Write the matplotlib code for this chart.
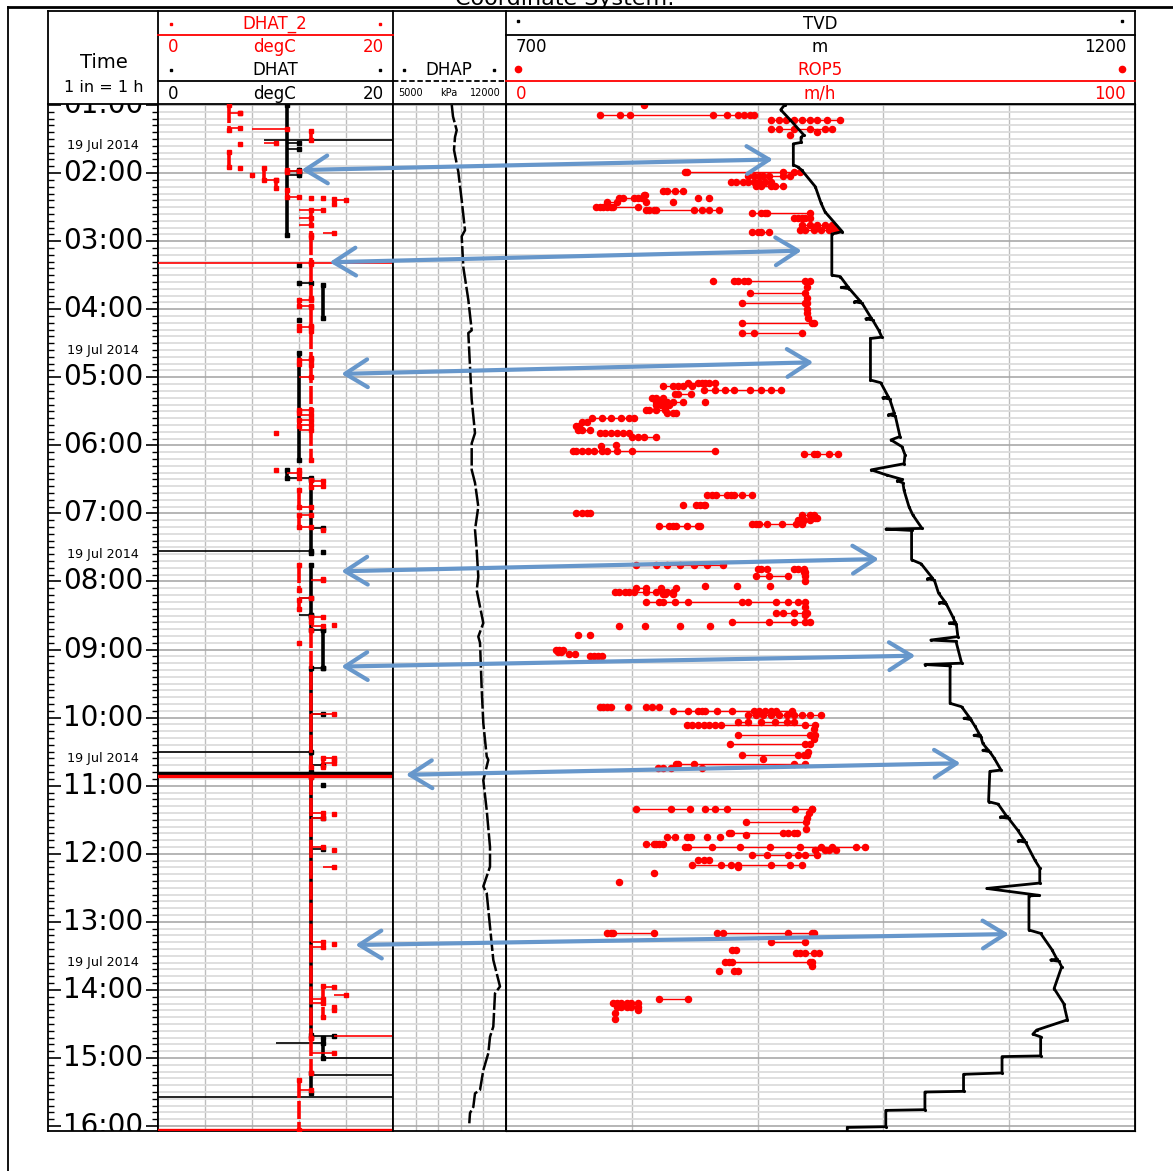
import numpy as np
import matplotlib.pyplot as plt
from matplotlib.patches import ConnectionPatch
from matplotlib.transforms import blended_transform_factory

hours = list(range(1, 17))
date_hours = [1.6, 4.6, 7.6, 10.6, 13.6]
date_text = '19 Jul 2014'

# TVD (m) against time (h)
tvd_time = [1.00, 1.07, 1.22, 1.44, 1.475, 1.55, 1.57, 1.88, 1.91, 1.955, 2.20, 2.44, 2.57, 2.86, 2.895,
            3.50, 3.52, 3.67, 3.68, 3.70, 3.88, 3.89, 3.91, 4.13, 4.14, 4.16, 4.31, 4.41, 4.43, 5.04,
            5.08, 5.29, 5.30, 5.32, 5.53, 5.55, 5.57, 5.87, 5.92, 6.02, 6.14, 6.27, 6.36, 6.435, 6.50,
            6.52, 6.55, 6.66, 6.90, 7.02, 7.22, 7.23, 7.25, 7.68, 7.74, 7.95, 7.96, 7.98, 8.17, 8.30,
            8.31, 8.33, 8.52, 8.60, 8.61, 8.63, 8.81, 8.86, 8.88, 9.20, 9.22, 9.24, 9.79, 9.84, 10.00,
            10.01, 10.03, 10.13, 10.25, 10.26, 10.28, 10.38, 10.47, 10.48, 10.50, 10.60, 10.77, 10.79,
            11.235, 11.27, 11.45, 11.46, 11.48, 11.65, 11.80, 11.81, 11.83, 12.09, 12.21, 12.43, 12.51,
            12.61, 12.62, 13.12, 13.17, 13.41, 13.55, 13.56, 13.58, 13.66, 13.98, 14.20, 14.44, 14.59,
            14.65, 14.69, 14.97, 14.98, 15.22, 15.24, 15.49, 15.50, 15.76, 15.77, 16.01, 16.02, 16.10]
tvd_m = [921.4, 918.4, 926.0, 936.7, 934.5, 934.5, 928.4, 928.4, 932.0, 935.0, 945.9, 950.4, 953.6, 967.3, 959.0,
         959.0, 965.7, 971.8, 966.5, 973.0, 981.5, 977.0, 983.0, 990.3, 986.0, 991.5, 996.3, 998.8, 989.7, 989.7,
         997.9, 1004.0, 999.5, 1005.0, 1008.7, 1004.0, 1009.5, 1013.2, 1006.0, 1014.8, 1017.2, 1016.4, 990.3, 1002.5, 1014.8,
         1011.0, 1015.5, 1016.4, 1020.3, 1023.3, 1030.7, 1002.0, 1022.4, 1022.4, 1030.0, 1039.0, 1035.0, 1040.5, 1043.8, 1049.0,
         1044.5, 1050.0, 1055.2, 1057.0, 1052.5, 1058.0, 1059.2, 1037.7, 1057.7, 1062.2, 1033.0, 1053.0, 1053.0, 1062.2, 1068.5,
         1064.0, 1069.5, 1072.9, 1076.5, 1072.0, 1077.5, 1079.0, 1083.0, 1079.0, 1084.5, 1088.2, 1093.5, 1084.6,
         1083.6, 1091.2, 1098.0, 1093.0, 1099.5, 1106.6, 1112.0, 1107.0, 1113.0, 1120.3, 1124.3, 1124.3, 1082.1,
         1123.4, 1115.7, 1115.7, 1125.0, 1134.0, 1138.0, 1133.0, 1139.5, 1141.7, 1135.7, 1143.3, 1146.3, 1121.8,
         1118.8, 1125.0, 1125.0, 1094.3, 1094.3, 1063.7, 1063.7, 1033.0, 1033.0, 1001.9, 1001.9, 971.3, 971.3]

# DHAP (kPa)
dhap_time = [1.00, 1.17, 1.37, 1.47, 1.66, 1.98, 2.40, 2.84, 2.93, 3.38, 3.86, 4.31, 4.35, 4.84, 5.33,
             5.82, 5.97, 6.36, 6.55, 6.90, 7.24, 7.54, 7.93, 8.13, 8.61, 8.81, 8.90, 9.59, 10.08, 10.57,
             10.62, 10.92, 11.36, 11.90, 12.19, 12.48, 12.58, 13.07, 13.56, 13.95, 14.05, 14.54, 14.69,
             14.93, 15.18, 15.32, 15.47, 15.52, 15.72, 15.81, 15.96]
dhap_kpa = [8640, 8717, 8946, 8841, 8779, 9045, 9256, 9460, 9256, 9355, 9665, 9875, 9665, 9770, 9875,
            10080, 9875, 9875, 10080, 10284, 10080, 10185, 10284, 10185, 10594, 10284, 10390, 10495, 10594, 10805,
            10904, 10594, 10805, 11009, 11009, 10594, 10805, 11009, 11213, 11629, 11319, 11213, 11009,
            10904, 10594, 10495, 10390, 10080, 9975, 9770, 9727]

# DHAT (black): runs of constant reading (start h, end h, degC)
dhat_t0 = [1.00, 1.95, 3.64, 4.64, 6.36, 6.51, 7.76, 8.52, 8.71, 9.27, 10.87, 14.71, 15.22]
dhat_t1 = [2.91, 2.00, 4.13, 6.22, 6.48, 7.58, 8.49, 8.71, 9.27, 10.80, 14.66, 15.00, 15.51]
dhat_v = [11, 12, 14, 12, 11, 13, 13, 13, 14, 13, 13, 14, 13]
# jumps (time, from degC, to degC); beyond 0..20 means off scale
dhat_jump_t = [1.51, 1.56, 1.65, 1.97, 2.03, 3.61, 6.48, 7.21, 7.55, 8.24, 8.49, 8.71, 9.27, 9.95,
               10.50, 10.69, 10.81, 11.47, 11.93, 14.68, 14.78, 15.00, 15.25, 15.57]
dhat_jump_a = [9, 11, 11, 11, 11, 12, 11, 13, -5, 12, 12, 13, 13, 13, -5, 13, -5, 13, 13, 13, 10, 14, 13, -5]
dhat_jump_b = [25, 12, 12, 12, 12, 13, 13, 14, 13, 13, 13, 14, 14, 14, 13, 14, 25, 14, 14, 15, 14, 25, 25, 25]
dhat_dot_t = [3.35, 3.61, 4.16, 7.57, 10.99]
dhat_dot_v = [12, 12, 12, 14, 14]

# DHAT_2 (red)
dhat2_t0 = [1.00, 1.38, 1.69, 1.93, 1.95, 2.10, 2.25, 2.38, 2.54, 2.94, 3.34, 3.86, 3.97, 4.24, 4.32,
            4.75, 4.82, 5.48, 5.63, 6.36, 6.51, 6.66, 7.02, 7.76, 8.27, 8.52, 8.71, 10.59, 10.87,
            13.95, 14.70, 15.32]
dhat2_t1 = [1.36, 1.52, 1.91, 2.10, 1.99, 2.22, 2.35, 2.45, 2.91, 3.30, 3.84, 3.95, 4.24, 4.30, 4.72,
            4.80, 6.22, 5.52, 5.72, 6.48, 6.61, 6.90, 7.20, 8.13, 8.40, 8.60, 10.73, 10.73, 14.70,
            14.40, 15.22, 16.06]
dhat2_v = [6, 13, 6, 9, 11, 10, 11, 15, 13, 13, 13, 12, 13, 12, 13,
           12, 13, 12, 12, 12, 13, 12, 12, 12, 12, 13, 13, 14, 13,
           14, 13, 12]
dhat2_jump_t = [1.12, 1.34, 1.35, 1.56, 1.97, 2.10, 2.35, 2.40, 2.54, 2.66, 2.76, 2.88, 3.32, 3.86, 3.95,
                4.26, 4.75, 5.00, 5.48, 5.56, 5.63, 5.70, 5.77, 6.40, 6.52, 6.60, 6.90, 7.02, 7.20, 7.98,
                8.24, 8.52, 8.66, 9.95, 10.60, 10.66, 10.86, 11.40, 11.47, 11.90, 12.19, 13.30, 13.37,
                13.96, 14.07, 14.14, 14.19, 14.68, 14.93, 15.47, 16.06]
dhat2_jump_a = [6, 6, 8, 9, 11, 9, 11, 15, 12, 12, 12, 14, -5, 12, 12,
                12, 12, 12, 12, 12, 12, 12, 12, 11, 13, 13, 12, 12, 12, 13,
                12, 13, 13, 13, 14, 14, -5, 13, 13, 13, 14, 13, 13,
                14, 15, 13, 13, 15, 13, 12, -5]
dhat2_jump_b = [7, 7, 11, 10, 12, 10, 12, 16, 14, 13, 13, 15, 25, 13, 13,
                13, 13, 13, 13, 13, 13, 13, 13, 12, 14, 14, 13, 13, 13, 14,
                13, 14, 14, 15, 15, 15, 25, 14, 14, 14, 15, 14, 14,
                15, 16, 14, 14, 25, 15, 13, 25]
dhat2_dot_t = [1.12, 1.57, 1.92, 2.03, 2.37, 2.37, 5.82, 6.36, 7.24, 7.97, 8.64, 8.90, 10.62, 11.42,
               11.94, 13.33, 14.25, 14.30]
dhat2_dot_v = [7, 7, 7, 8, 13, 14, 10, 10, 14, 14, 15, 12, 15, 15, 15, 15, 15, 15]

# ROP5 (m/h): each row is a run of samples at (about) one time
rop_row_time = [1.00, 1.15, 1.22, 1.35, 1.40, 1.44, 1.98, 2.05, 2.13, 2.19, 2.27, 2.32, 2.37, 2.37, 2.37,
                2.42, 2.42, 2.42, 2.50, 2.54, 2.59, 2.66, 2.76, 2.84, 2.86,
                3.58, 3.58, 3.67, 3.76, 3.84, 3.91, 3.99, 4.06, 4.13, 4.20, 4.35,
                5.09, 5.13, 5.19, 5.24, 5.31, 5.36, 5.36, 5.41, 5.48, 5.52, 5.60, 5.65, 5.72, 5.77,
                5.82, 5.88, 5.99, 6.01, 6.08, 6.12,
                6.73, 6.88, 6.88, 6.99, 7.02, 7.07, 7.10, 7.16, 7.19,
                7.76, 7.81, 7.81, 7.86, 7.92, 7.92, 8.00, 8.07, 8.07, 8.07, 8.10, 8.10, 8.10, 8.15,
                8.18, 8.30, 8.37, 8.46, 8.49, 8.59, 8.66, 8.66, 8.66, 8.66, 8.78, 8.78,
                9.01, 9.04, 9.06, 9.10,
                9.84, 9.84, 9.84, 9.84, 9.90, 9.96, 10.06, 10.06, 10.11, 10.17, 10.25, 10.31, 10.39,
                10.50, 10.55, 10.61, 10.68, 10.74,
                11.34, 11.34, 11.40, 11.47, 11.54, 11.63, 11.70, 11.73, 11.76, 11.76, 11.76, 11.76,
                11.85, 11.90, 11.95, 12.02, 12.09, 12.16, 12.20, 12.28, 12.42,
                13.17, 13.17, 13.29, 13.41, 13.46, 13.59, 13.65, 13.72, 13.72,
                14.13, 14.19, 14.25, 14.30, 14.34, 14.43]
rop_row_vals = [
    [21.9], [14.9, 18.1, 19.7, 32.9, 35.1, 36.9, 37.8, 38.8, 39.4],
    [42.1, 43.4, 44.5, 45.8, 47.0, 48.3, 49.4, 51.0, 53.1], [42.1, 43.4, 45.8, 48.3, 50.7, 51.9],
    [49.4], [45.2], [28.4, 28.7, 44.0, 45.8, 46.7], [38.5, 39.4, 40.3, 40.9, 41.8, 44.0, 45.2],
    [35.7, 36.6, 37.6, 38.5, 39.4, 40.3, 41.2, 42.1], [39.7, 40.6, 42.1, 42.7, 44.0],
    [25.0, 25.6, 26.8, 28.2], [21.9, 22.1], [18.0, 18.6, 20.4, 21.0, 21.6], [30.5], [32.3],
    [16.1, 17.6], [22.2], [26.5], [14.3, 14.9, 15.5, 16.1, 16.7, 17.0, 21.0],
    [22.2, 22.8, 23.5, 23.8, 29.9, 31.1, 32.3, 33.9], [39.1, 40.6, 41.2, 41.5, 48.3],
    [45.8, 46.4, 47.0, 47.6, 48.3], [47.0, 48.3, 49.5, 50.7, 51.9],
    [46.7, 47.6, 48.9, 50.1, 51.3, 52.5], [39.1, 40.0, 40.6, 41.8],
    [32.9], [36.3, 36.9, 37.9, 38.5, 47.6, 48.3], [47.8], [38.8, 47.6], [47.8], [37.5, 47.6, 47.9],
    [47.8], [47.8], [48.0], [37.5, 48.6, 48.9], [37.5, 39.4, 47.0],
    [29.0, 30.5, 31.1, 31.7, 32.3, 33.3], [25.0, 26.5, 27.4, 28.1, 29.6],
    [31.4, 33.3, 34.8, 36.3, 38.8, 40.6, 42.1, 43.7], [26.8, 27.4, 29.4], [23.2, 23.8, 25.0],
    [23.8, 24.7, 25.6, 26.5, 28.1], [31.6], [23.8, 24.7, 25.3, 25.9], [22.2, 22.8, 23.8, 25.3],
    [25.6, 26.5, 27.1], [13.7, 15.2, 16.7, 18.3, 19.5, 20.4], [12.1, 12.8], [11.2, 11.6],
    [11.5, 12.1, 13.4], [14.9, 15.8, 16.7, 17.6, 18.6, 19.5], [20.1, 21.0, 21.9, 23.8],
    [17.5], [15.1], [10.6, 11.2, 12.1, 13.1, 14.0, 15.2, 16.1, 17.6, 20.1, 33.3],
    [47.3, 48.9, 49.5, 51.3, 52.8],
    [32.0, 32.7, 33.4, 35.1, 35.7, 36.3, 37.5, 39.1], [28.1], [30.2, 30.8, 31.4, 31.7],
    [11.2, 12.1, 12.8, 13.4], [47.0, 48.3, 48.9], [49.2, 49.5], [46.4, 47.3, 48.3],
    [39.1, 39.7, 40.3, 41.5, 43.8, 46.1, 47.0], [24.4, 25.9, 26.5, 27.1, 28.7, 30.5, 30.8],
    [20.7, 23.8, 25.6, 27.7, 29.9, 32.0, 34.5], [40.0, 40.6, 41.5], [45.8, 46.4, 47.3], [47.3, 47.6],
    [39.7, 41.8, 44.9], [47.6], [47.6], [31.7], [36.8], [42.0], [20.7, 22.2], [24.7], [27.1],
    [17.3, 17.9, 18.9, 19.5, 20.4, 22.2, 23.8, 25.0, 25.6, 26.5],
    [25.0, 25.3, 26.5], [22.2, 24.4, 25.0, 26.8, 29.0, 37.5, 38.5, 43.0, 44.9, 46.4, 47.6], [47.6],
    [42.9, 44.0, 45.8, 47.6, 47.9], [47.6], [36.0, 41.8, 45.8, 47.6, 48.3],
    [17.9], [22.1], [27.6], [32.5], [11.4], [13.4],
    [7.9, 8.5, 9.1], [8.2, 8.8], [10.0, 10.9], [13.4, 14.0, 14.6, 15.2],
    [14.9, 15.5, 16.1, 16.7], [19.4], [22.2, 23.2], [24.4],
    [26.5, 29.0, 30.5, 31.1, 31.7, 33.6, 36.0, 39.4, 40.3, 41.2, 42.1, 43.0, 45.5],
    [38.5, 39.7, 40.9, 42.1, 43.4, 44.6, 45.8, 47.0, 48.3, 50.1], [36.9, 38.5], [40.6, 42.7, 44.6, 45.8],
    [28.7, 29.6, 30.5, 31.4, 32.3, 33.3, 34.2, 47.6, 49.2], [48.9], [36.9, 48.3, 49.2], [48.9],
    [35.6, 47.6, 48.3], [48.0], [37.5, 46.4, 47.3, 47.9], [40.9], [27.1, 27.4, 29.9, 45.8, 47.6],
    [24.1, 25.0, 26.2, 31.1],
    [20.7, 26.2, 29.3], [31.7, 33.3, 35.1, 45.9, 48.6, 48.7], [48.2], [47.9], [38.2, 47.7], [47.7],
    [35.4, 35.7, 44.0, 44.9, 45.8, 46.3], [38.2], [25.6, 26.8], [28.7, 29.4], [32.0], [34.0],
    [22.2, 23.5, 23.8, 24.4, 25.0], [28.4, 29.0, 32.8, 37.2, 42.0, 46.7, 50.1, 51.9, 55.6, 57.1],
    [49.2, 50.7, 51.3, 52.5], [39.1, 41.5, 44.9, 46.4, 47.6, 49.5], [30.5, 31.4, 32.3],
    [29.5, 34.2, 35.7, 36.9, 42.1, 45.2, 47.0], [36.9], [23.5], [17.9],
    [16.1, 16.7, 17.0, 23.5], [33.6, 34.5, 44.9, 48.6, 48.9], [42.1, 47.6], [36.0, 36.6],
    [46.1, 46.7, 47.6, 48.9, 49.8], [34.8, 35.4, 36.0, 48.3, 48.6], [48.6], [33.9], [36.3, 36.9],
    [24.4, 29.0], [17.0, 17.6, 18.3, 19.2, 19.8, 21.0], [17.6, 18.3, 19.2, 19.8, 21.0], [21.0],
    [17.3], [17.3]]

# blue double arrows: DHAT-track end (time, degC) -> TVD-track end (time, m)
arrow_t_left = [1.955, 3.31, 4.95, 7.85, 9.25, 10.84, 13.34]
arrow_degc = [12.2, 14.6, 15.6, 15.6, 15.6, 21.1, 16.8]
arrow_t_right = [1.80, 3.14, 4.78, 7.67, 9.09, 10.67, 13.18]
arrow_tvd = [912.2, 935.1, 944.3, 996.4, 1025.4, 1061.3, 1099.8]

# ---------------- layout ----------------
W, H = 1173, 1171
T_TOP, T_BOT = 0.985, 16.073
RED = '#ff0000'
BLUE = '#6797cb'

fig = plt.figure(figsize=(W / 100, H / 100), dpi=100)

# overlay in pixel units for frame and headers
hx = fig.add_axes([0, 0, 1, 1])
hx.set_xlim(0, W)
hx.set_ylim(H, 0)
hx.axis('off')

y_top, y_bot = 104, 1131


def track(x0, x1):
    ax = fig.add_axes([x0 / W, 1 - y_bot / H, (x1 - x0) / W, (y_bot - y_top) / H])
    ax.set_ylim(T_BOT, T_TOP)
    for s in ax.spines.values():
        s.set_linewidth(1.3)
    return ax


def grid_track(ax, lo, hi, ndiv=5):
    ax.set_xlim(lo, hi)
    ax.set_xticks(np.linspace(lo, hi, ndiv + 1)[1:-1])
    ax.set_yticks(hours)
    ax.set_yticks(np.arange(1, 16.05, 0.1), minor=True)
    ax.grid(which='minor', axis='y', color='#dcdcdc', lw=1.3, zorder=0)
    ax.grid(which='major', axis='y', color='#a9a9a9', lw=1.2, zorder=0)
    ax.grid(which='major', axis='x', color='#bdbdbd', lw=1.0, zorder=0)
    ax.tick_params(which='both', length=0, labelleft=False, labelbottom=False)
    ax.set_axisbelow(True)


# time track
ax_time = track(48, 158)
ax_time.set_xlim(0, 1)
ax_time.set_yticks(hours)
ax_time.set_yticks(np.arange(1, 16.05, 0.1), minor=True)
ax_time.set_xticks([])
ax_time.tick_params(axis='y', which='major', direction='in', length=9, width=1.2,
                    left=True, right=True, labelleft=False)
ax_time.tick_params(axis='y', which='minor', direction='in', length=4.5, width=1.0,
                    left=True, right=True)
tr = blended_transform_factory(ax_time.transAxes, ax_time.transData)
for h in hours:
    ax_time.text(0.5, h, f'{h:02d}:00', transform=tr, ha='center', va='center',
                 fontsize=20, clip_on=True)
for h in date_hours:
    ax_time.text(0.5, h, date_text, transform=tr, ha='center', va='center', fontsize=9.2)

# DHAT track
ax_dhat = track(158, 393)
grid_track(ax_dhat, 0, 20)


def draw_temp(ax, t0, t1, v, jt, ja, jb, dt, dv, color, ls, bold_at):
    ax.vlines(v, t0, t1, colors=color, lw=2.6, linestyles=ls, zorder=3)
    ax.plot(v, t0, 's', ms=2.2, color=color, zorder=3)
    ax.plot(v, t1, 's', ms=2.2, color=color, zorder=3)
    widths = [2.4 if t in bold_at else 1.2 for t in jt]
    ax.hlines(jt, ja, jb, colors=color, lw=widths, zorder=3)
    ax.plot(jb, jt, 's', ms=2.2, color=color, zorder=3)
    ax.plot(dv, dt, 's', ms=2.6, color=color, zorder=3)


draw_temp(ax_dhat, dhat_t0, dhat_t1, dhat_v, dhat_jump_t, dhat_jump_a, dhat_jump_b,
          dhat_dot_t, dhat_dot_v, 'black', 'solid', [10.81])
draw_temp(ax_dhat, dhat2_t0, dhat2_t1, dhat2_v, dhat2_jump_t, dhat2_jump_a, dhat2_jump_b,
          dhat2_dot_t, dhat2_dot_v, RED, (0, (5, 0.8)), [10.86, 16.06])

# DHAP track
ax_dhap = track(393, 506)
grid_track(ax_dhap, 5000, 12000)
ax_dhap.plot(dhap_kpa, dhap_time, color='black', lw=1.8, dashes=(7, 1.2), zorder=3)

# ROP5 / TVD track
ax_rop = track(506, 1135)
grid_track(ax_rop, 0, 100)
for t, vals in zip(rop_row_time, rop_row_vals):
    ax_rop.plot(vals, [t] * len(vals), '-o', color=RED, lw=1.0, ms=4.4, zorder=3)

ax_tvd = ax_rop.twiny()
ax_tvd.set_xlim(700, 1200)
ax_tvd.set_ylim(T_BOT, T_TOP)
ax_tvd.tick_params(which='both', length=0, labeltop=False)
ax_tvd.plot(tvd_m, tvd_time, color='black', lw=2.0, zorder=4)
ax_tvd.plot(tvd_m, tvd_time, '.', color='black', ms=2.5, zorder=4)

# ---------------- frame and headers ----------------
hx.plot([8, W], [7, 7], color='black', lw=2)
hx.plot([8, 8], [7, H], color='black', lw=1.3)
hx.text(565, 5, 'Coordinate System:', ha='center', va='baseline', fontsize=16)
hx.plot([48, 1135], [11, 11], color='black', lw=1.3)
for x in [48, 158, 393, 506, 1135]:
    hx.plot([x, x], [11, 104], color='black', lw=1.3)

hx.text(104, 63, 'Time', ha='center', va='center', fontsize=14)
hx.text(104, 87, '1 in = 1 h', ha='center', va='center', fontsize=11.5)

# DHAT header
hx.text(275, 24, 'DHAT_2', color=RED, ha='center', va='center', fontsize=12)
hx.plot([171, 380], [24, 24], 's', color=RED, ms=2)
hx.plot([158, 393], [35, 35], color=RED, lw=1.3)
hx.text(168, 47, '0', color=RED, ha='left', va='center', fontsize=12)
hx.text(275, 47, 'degC', color=RED, ha='center', va='center', fontsize=12)
hx.text(384, 47, '20', color=RED, ha='right', va='center', fontsize=12)
hx.text(275, 70, 'DHAT', ha='center', va='center', fontsize=12)
hx.plot([171, 380], [70, 70], 's', color='black', ms=1.8)
hx.plot([158, 393], [81, 81], color='black', lw=1.3)
hx.text(168, 94, '0', ha='left', va='center', fontsize=12)
hx.text(275, 94, 'degC', ha='center', va='center', fontsize=12)
hx.text(384, 94, '20', ha='right', va='center', fontsize=12)

# DHAP header
hx.text(449, 70, 'DHAP', ha='center', va='center', fontsize=12)
hx.plot([404, 494], [70, 70], 's', color='black', ms=2)
hx.plot([393, 506], [81, 81], color='black', lw=1.3, dashes=(3, 1.5))
hx.text(398, 93, '5000', ha='left', va='center', fontsize=7)
hx.text(449, 93, 'kPa', ha='center', va='center', fontsize=7)
hx.text(501, 93, '12000', ha='right', va='center', fontsize=7)

# TVD / ROP5 header
hx.text(820, 24, 'TVD', ha='center', va='center', fontsize=12)
hx.plot([518, 1122], [21, 21], 's', color='black', ms=1.8)
hx.plot([506, 1135], [35, 35], color='black', lw=1.3)
hx.text(516, 47, '700', ha='left', va='center', fontsize=12)
hx.text(820, 47, 'm', ha='center', va='center', fontsize=12)
hx.text(1126, 47, '1200', ha='right', va='center', fontsize=12)
hx.text(820, 70, 'ROP5', color=RED, ha='center', va='center', fontsize=12)
hx.plot([518, 1122], [69, 69], 'o', color=RED, ms=4.5)
hx.plot([506, 1135], [81, 81], color=RED, lw=1.3)
hx.text(516, 94, '0', color=RED, ha='left', va='center', fontsize=12)
hx.text(820, 94, 'm/h', color=RED, ha='center', va='center', fontsize=12)
hx.text(1126, 94, '100', color=RED, ha='right', va='center', fontsize=12)

# ---------------- arrows ----------------
for tl, dl, trt, dr in zip(arrow_t_left, arrow_degc, arrow_t_right, arrow_tvd):
    con = ConnectionPatch(xyA=(dl, tl), coordsA=ax_dhat.transData,
                          xyB=(dr, trt), coordsB=ax_tvd.transData,
                          arrowstyle='<->,head_length=1.6,head_width=1.0',
                          mutation_scale=10, color=BLUE, lw=3.0, zorder=10)
    fig.add_artist(con)

fig.savefig('out.png', dpi=100)
